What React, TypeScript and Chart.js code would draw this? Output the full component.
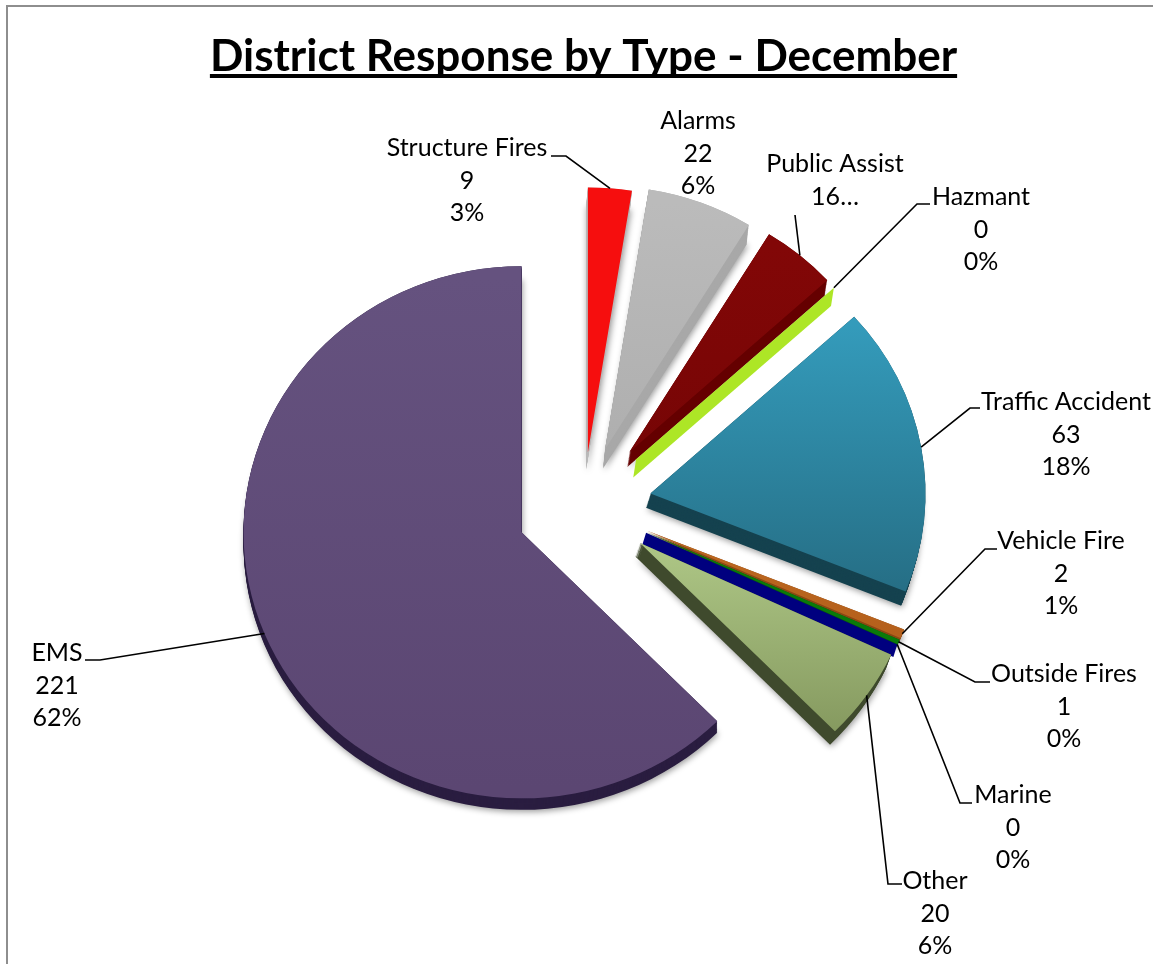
import React, { useEffect, useRef } from "react";
import { Chart, registerables } from "chart.js";

Chart.register(...registerables);

const titleText = "District Response by Type - December";
const categories = ["Structure Fires", "Alarms", "Public Assist", "Hazmant", "Traffic Accident", "Vehicle Fire", "Outside Fires", "Marine", "Other", "EMS"];
const values = [9, 22, 16, 0, 63, 2, 1, 0, 20, 221];
const valueLabels = ["9", "22", "16…", "0", "63", "2", "1", "0", "20", "221"];
const percentLabels = ["3%", "6%", "", "0%", "18%", "1%", "0%", "0%", "6%", "62%"];

// Styling only: slice colours, explosion, wall depth and slant, perspective radius
const topColors = ["#F60E0E", "#BBBBBB", "#820707", "#ADE626", "#349BBB", "#BC6820", "#0A7A0A", "#00007F", "#AFC887", "#65527F"];
const bottomColors = ["#F60E0E", "#AEAEAE", "#760505", "#ADE626", "#266F86", "#B5601C", "#0A7A0A", "#00007F", "#85995F", "#5B4672"];
const gradientTop = [186, 190, 235, 280, 316, 530, 530, 530, 541, 268];
const gradientBottom = [455, 460, 470, 480, 590, 640, 640, 650, 745, 800];
const wallColors = ["#B9B9B9", "#A8A8A8", "#650000", "#ADE626", "#15424F", "#8E4A15", "#075A07", "#00007F", "#3F4A2D", "#2A1D40"];
const wallDepth = [18, 20, 16, 19, 15, 4, 3, 13, 14, 12];
const wallSlant = [-0.1, -0.1, -0.15, -0.15, -0.3, -0.3, -0.3, -0.3, -0.35, 0];
const explosion = [55, 62, 72, 71, 68, 69, 69, 69, 69, 67];
const radiusBySlice = [277, 275, 267, 267, 275, 277, 277, 277, 277, 278];
const nudgeY = [0, 0, 0, 0, 0, 0, 0, 0, 0, 3];

// Layout of labels: centre x, first line middle y, elbow of leader, end of leader
const labelX = [467, 698, 835, 981, 1066, 1061, 1064, 1013, 935, 57];
const labelY = [148, 121, 164, 197, 402, 541, 674, 795, 881, 653];
const leaderElbow: ([number, number] | null)[] = [[566, 156], null, [795, 215], [917, 204], [970, 408], [985, 549], [975, 682], [960, 803], [888, 884], [100, 660]];
const leaderEnd: ([number, number] | null)[] = [[551, 156], null, null, [930, 204], [980, 408], [997, 549], [990, 682], [972, 803], [902, 884], [85, 660]];

const FONT = "Lato";
const SQUASH = 0.957;
const RADIUS = 277;

const centerY = (chart: any) => (chart.chartArea.top + chart.chartArea.bottom) / 2;

const piePlugin = {
  id: "piePlugin",
  afterDatasetsUpdate(chart: any) {
    const cx = (chart.chartArea.left + chart.chartArea.right) / 2;
    const cy = centerY(chart);
    chart.getDatasetMeta(0).data.forEach((arc: any, i: number) => {
      const mid = (arc.startAngle + arc.endAngle) / 2;
      arc.x = cx + Math.cos(mid) * explosion[i];
      arc.y = cy + Math.sin(mid) * explosion[i] + nudgeY[i];
      arc.outerRadius = radiusBySlice[i];
    });
  },
  beforeDraw(chart: any) {
    const ctx = chart.ctx;
    ctx.save();
    ctx.strokeStyle = "#8E8E8E";
    ctx.lineWidth = 2;
    ctx.beginPath();
    ctx.moveTo(7, chart.height);
    ctx.lineTo(7, 6);
    ctx.lineTo(chart.width, 6);
    ctx.stroke();
    ctx.restore();
  },
  beforeDatasetsDraw(chart: any) {
    const ctx = chart.ctx;
    const y0 = centerY(chart);
    ctx.save();
    ctx.translate(0, y0);
    ctx.scale(1, SQUASH);
    ctx.translate(0, -y0);
    chart.getDatasetMeta(0).data.forEach((arc: any, i: number) => {
      const slant = wallSlant[i];
      const path = (d: number) => {
        ctx.beginPath();
        ctx.moveTo(arc.x + d * slant, arc.y + d);
        ctx.arc(arc.x + d * slant, arc.y + d, arc.outerRadius, arc.startAngle, arc.endAngle);
        ctx.closePath();
      };
      ctx.fillStyle = wallColors[i];
      ctx.save();
      ctx.shadowColor = "rgba(0,0,0,0.4)";
      ctx.shadowBlur = 6;
      ctx.shadowOffsetX = 1;
      ctx.shadowOffsetY = 2;
      const depth = wallDepth[i];
      if (arc.endAngle - arc.startAngle < 1e-6) {
        const ex = arc.x + Math.cos(arc.startAngle) * arc.outerRadius;
        const ey = arc.y + Math.sin(arc.startAngle) * arc.outerRadius;
        ctx.shadowColor = "transparent";
        ctx.beginPath();
        ctx.moveTo(arc.x, arc.y);
        ctx.lineTo(ex, ey);
        ctx.lineTo(ex + depth * slant, ey + depth);
        ctx.lineTo(arc.x + depth * slant, arc.y + depth);
        ctx.closePath();
        ctx.fill();
      } else {
        path(depth);
        ctx.fill();
        ctx.shadowColor = "transparent";
        for (let d = depth - 1; d >= 0; d--) {
          path(d);
          ctx.fill();
        }
      }
      ctx.restore();
    });
  },
  afterDatasetsDraw(chart: any) {
    const ctx = chart.ctx;
    ctx.restore();
    const y0 = centerY(chart);
    ctx.save();
    ctx.strokeStyle = "#000";
    ctx.lineWidth = 1.6;
    chart.getDatasetMeta(0).data.forEach((arc: any, i: number) => {
      const elbow = leaderElbow[i];
      if (!elbow) return;
      const mid = (arc.startAngle + arc.endAngle) / 2;
      const sx = arc.x + Math.cos(mid) * arc.outerRadius;
      const sy = y0 + (arc.y + Math.sin(mid) * arc.outerRadius - y0) * SQUASH;
      ctx.beginPath();
      ctx.moveTo(sx, sy);
      ctx.lineTo(elbow[0], elbow[1]);
      const end = leaderEnd[i];
      if (end) ctx.lineTo(end[0], end[1]);
      ctx.stroke();
    });
    ctx.fillStyle = "#000";
    ctx.font = `25px ${FONT}`;
    ctx.textAlign = "center";
    ctx.textBaseline = "middle";
    categories.forEach((name, i) => {
      const lines = [name, valueLabels[i], percentLabels[i]].filter(Boolean);
      lines.forEach((t, k) => ctx.fillText(t, labelX[i], labelY[i] + k * 32.7));
    });
    ctx.restore();
  },
  afterDraw(chart: any) {
    const ctx = chart.ctx;
    ctx.save();
    ctx.font = `bold 44px ${FONT}`;
    const w = ctx.measureText(titleText).width;
    const cx = (chart.chartArea.left + chart.chartArea.right) / 2;
    ctx.fillStyle = "#000";
    ctx.fillRect(cx - w / 2, 74, w, 4);
    ctx.restore();
  },
};

export default function App() {
  const ref = useRef<HTMLCanvasElement>(null);
  useEffect(() => {
    const canvas = ref.current!;
    const g = canvas.getContext("2d")!;
    const colors = topColors.map((c, i) => {
      const grad = g.createLinearGradient(0, gradientTop[i], 0, gradientBottom[i]);
      grad.addColorStop(0, c);
      grad.addColorStop(1, bottomColors[i]);
      return grad;
    });
    const chart = new Chart(canvas, {
      type: "pie",
      data: {
        labels: categories,
        datasets: [{ data: values, backgroundColor: colors, borderWidth: 0, radius: RADIUS, clip: false } as any],
      },
      options: {
        responsive: false,
        animation: false,
        events: [],
        layout: { padding: { left: 14, right: 0, top: 0, bottom: 36.8 } },
        plugins: {
          legend: { display: false },
          tooltip: { enabled: false },
          title: {
            display: true,
            text: titleText,
            fullSize: false,
            color: "#000",
            font: { family: FONT, size: 44, weight: "bold", lineHeight: 1.2 },
            padding: { top: 30, bottom: 0 },
          },
        },
      } as any,
      plugins: [piePlugin],
    });
    return () => chart.destroy();
  }, []);
  return <canvas ref={ref} width={1153} height={964} style={{ position: "fixed", left: 0, top: 0, display: "block", background: "#fff" }} />;
}
